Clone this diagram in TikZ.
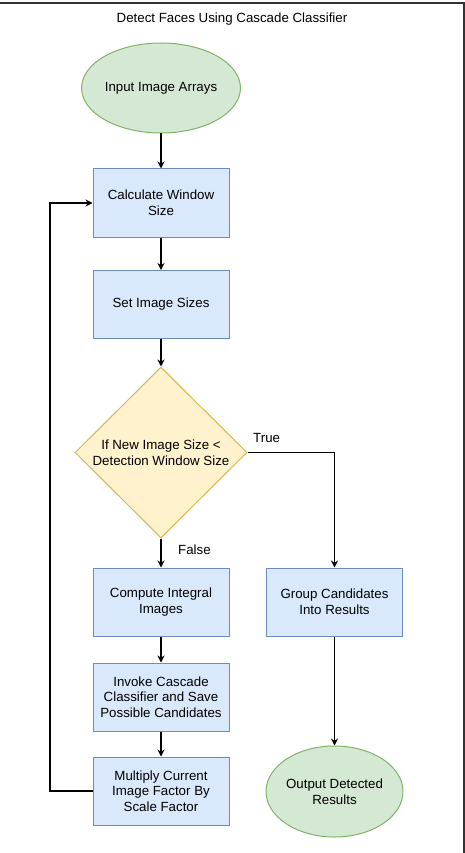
\documentclass[tikz,border=0pt]{standalone}
\usepackage{fontspec}
\setmainfont{Liberation Sans}
\usetikzlibrary{shapes.geometric,arrows.meta}
\definecolor{bfill}{HTML}{DAE8FC}
\definecolor{bline}{HTML}{6C8EBF}
\definecolor{gfill}{HTML}{D5E8D4}
\definecolor{gline}{HTML}{82B366}
\definecolor{yfill}{HTML}{FFF2CC}
\definecolor{yline}{HTML}{D6B656}
\definecolor{frame}{HTML}{333333}
\tikzset{
  txt/.style={font=\fontsize{13.3}{15.7}\selectfont, align=center, text=black},
  procbox/.style={txt, draw=bline, fill=bfill, line width=1pt, minimum width=136pt, minimum height=68pt, inner sep=2pt},
  term/.style={txt, ellipse, draw=gline, fill=gfill, line width=1pt, minimum width=136pt, minimum height=90pt, inner sep=0pt},
  decide/.style={txt, diamond, draw=yline, fill=yfill, line width=1pt, minimum width=172pt, minimum height=171pt, inner sep=0pt},
  arr/.style={draw=black, line width=1.2pt, -{Stealth[length=7pt,width=7pt]}},
  lbl/.style={txt, inner sep=0pt, anchor=west}
}
\begin{document}
\begin{tikzpicture}[x=1pt,y=-1pt]
\useasboundingbox (0,0) rectangle (465,853);
\fill[white] (0,0) rectangle (465,853);
\draw[frame, line width=2pt] (0,3) -- (463.5,3) -- (463.5,853);
\node[txt, inner sep=0pt] (title) at (232,19) {Detect Faces Using Cascade Classifier};
\node[term] (input) at (161,88) {Input Image Arrays};
\node[procbox] (calc) at (161,203) {Calculate Window\\Size};
\node[procbox] (setsz) at (161,304.5) {Set Image Sizes};
\node[decide] (dia) at (161,452.5) {If New Image Size <\\Detection Window Size};
\node[procbox] (integ) at (161,602) {Compute Integral\\Images};
\node[procbox] (group) at (334.5,602) {Group Candidates\\Into Results};
\node[procbox] (invoke) at (161,697) {Invoke Cascade\\Classifier and Save\\Possible Candidates};
\node[procbox] (mult) at (161,791) {Multiply Current\\Image Factor By\\Scale Factor};
\node[term, minimum width=135pt, minimum height=91pt] (out) at (334.5,791.5) {Output Detected\\Results};
\coordinate (lp) at (50,0);
\draw[arr] (input) -- (calc);
\draw[arr] (calc) -- (setsz);
\draw[arr] (setsz) -- (dia);
\draw[arr] (dia) -- (integ);
\draw[arr] (dia.east) -| (group.north);
\draw[arr] (integ) -- (invoke);
\draw[arr] (invoke) -- (mult);
\draw[arr] (group) -- (out);
\draw[arr] (mult.west) -- (mult.west -| lp) |- (calc.west);
\node[lbl] (true) at (253,438) {True};
\node[lbl] (false) at (178,550) {False};
\end{tikzpicture}
\end{document}
